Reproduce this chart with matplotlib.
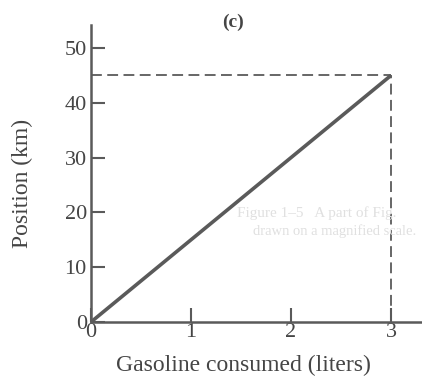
import matplotlib
matplotlib.use("Agg")
import matplotlib.pyplot as plt

# gasoline consumed (liters) vs position (km)
liters = [0, 3]
position_km = [0, 45]
x_ticks = [0, 1, 2, 3]
y_ticks = [0, 10, 20, 30, 40, 50]

plt.rcParams['font.family'] = ['Liberation Serif', 'DejaVu Serif']

ink = '#5a5a5a'
txt = '#454545'

fig = plt.figure(figsize=(4.22, 3.81), dpi=100)
ax = fig.add_axes([91/422, 59/381, 331/422, 297/381])

# solid line for the trip, dashed guides to the end point
ax.plot(liters, position_km, color=ink, lw=2.6, solid_capstyle='butt', zorder=3)
ax.plot([0, liters[-1]], [position_km[-1], position_km[-1]], color=ink, lw=1.3,
        ls=(0, (6, 3)))
ax.plot([liters[-1], liters[-1]], [0, position_km[-1]], color=ink, lw=1.3,
        ls=(0, (6, 3)))

ax.set_xlim(0, 3.31)
ax.set_ylim(0, 54.2)
ax.set_xticks(x_ticks)
ax.set_yticks(y_ticks)
ax.set_xticklabels([str(v) for v in x_ticks])
ax.set_yticklabels([str(v) for v in y_ticks])

for s in ['top', 'right']:
    ax.spines[s].set_visible(False)
for s in ['left', 'bottom']:
    ax.spines[s].set_color(ink)
    ax.spines[s].set_linewidth(1.8)
    ax.spines[s].set_zorder(4)

ax.tick_params(direction='in', length=10, width=1.5, color=ink,
               labelcolor=txt, labelsize=16)
ax.tick_params(axis='x', pad=1)
ax.tick_params(axis='y', pad=3)

ax.set_xlabel('Gasoline consumed (liters)', fontsize=17, color=txt)
ax.xaxis.set_label_coords(0.462, -0.11)
ax.set_ylabel('Position (km)', fontsize=17, color=txt)
ax.yaxis.set_label_coords(-0.176, 0.468)

fig.text(233/422, 1 - 22/381, '(c)', fontsize=14, fontweight='bold',
         color=txt, ha='center', va='center')

# faint print-through from the facing page
fig.text(237/422, 1 - 213/381, 'Figure 1–5   A part of Fig.', fontsize=11,
         color='#e0e0e0', ha='left', va='center', zorder=0)
fig.text(253/422, 1 - 231/381, 'drawn on a magnified scale.', fontsize=10.5,
         color='#e0e0e0', ha='left', va='center', zorder=0)

fig.savefig('out.png', dpi=100)
